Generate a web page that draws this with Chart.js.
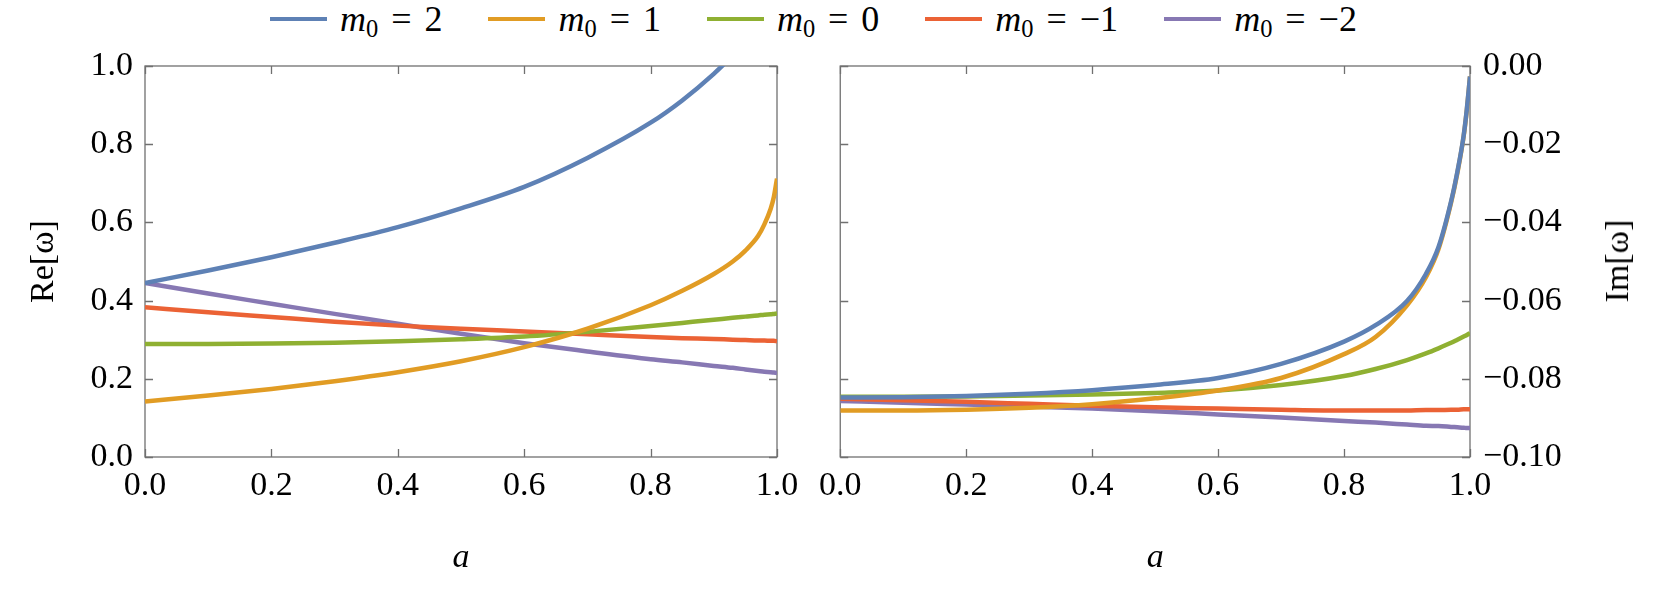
<!DOCTYPE html>
<html>
<head>
<meta charset="utf-8">
<script src="https://cdn.jsdelivr.net/npm/chart.js@4.4.1/dist/chart.umd.min.js"></script>
<style>
  html, body { margin: 0; padding: 0; background: #fff; }
  #page { position: relative; width: 1661px; height: 608px; overflow: hidden; font-family: 'Liberation Serif', serif; color: #000; }
  #legend { position: absolute; left: 270px; top: 0; height: 38px; display: flex; align-items: center; gap: 46px; font-size: 36px; white-space: nowrap; }
  .legend-item { display: flex; align-items: center; }
  .legend-line { width: 57px; height: 4.5px; margin-right: 13px; }
  .legend-item sub { font-size: 0.68em; vertical-align: -0.25em; line-height: 0; }
  .eq { margin: 0 0.36em; }
  .box { position: absolute; top: 0; height: 608px; }
  #im-title { position: absolute; left: 1617px; top: 261px; font-size: 34px; transform: translate(-50%, -50%) rotate(-90deg); white-space: nowrap; }
</style>
</head>
<body>
<div id="page">
  <div id="legend"></div>
  <div class="box" style="left:0;width:810px"><canvas id="re-chart"></canvas></div>
  <div class="box" style="left:810px;width:851px"><canvas id="im-chart"></canvas></div>
  <div id="im-title">Im[ω]</div>
</div>
<script>
// ─────────────────────────────────────────────
//  DATA
// ─────────────────────────────────────────────

const spinA = [0, 0.1, 0.2, 0.3, 0.4, 0.5, 0.6, 0.7, 0.8, 0.85, 0.9, 0.93, 0.95, 0.97, 0.98, 0.99, 0.995, 1.0];

const seriesLabels = ['2', '1', '0', '−1', '−2'];
const seriesColors = ['#5E81B5', '#E19C24', '#8FB032', '#EB6235', '#8778B3'];

// Re[ω]
const reM2  = [0.445, 0.477, 0.511, 0.548, 0.588, 0.636, 0.691, 0.765, 0.855, 0.912, 0.980, 1.027, null, null, null, null, null, null];
const reM1  = [0.142, 0.157, 0.174, 0.194, 0.217, 0.245, 0.281, 0.328, 0.388, 0.425, 0.468, 0.500, 0.528, 0.565, 0.595, 0.635, 0.665, 0.712];
const reM0  = [0.289, 0.289, 0.290, 0.292, 0.296, 0.301, 0.308, 0.320, 0.335, 0.343, 0.351, 0.356, 0.359, 0.362, 0.364, 0.365, 0.366, 0.367];
const reMm1 = [0.383, 0.370, 0.358, 0.346, 0.336, 0.328, 0.321, 0.314, 0.307, 0.304, 0.302, 0.300, 0.299, 0.298, 0.298, 0.297, 0.297, 0.296];
const reMm2 = [0.445, 0.418, 0.392, 0.366, 0.341, 0.315, 0.291, 0.270, 0.250, 0.242, 0.233, 0.228, 0.224, 0.220, 0.218, 0.217, 0.216, 0.215];

// Im[ω]
const imM2  = [-0.0848, -0.0847, -0.0844, -0.0838, -0.0829, -0.0816, -0.0798, -0.0762, -0.0705, -0.0663, -0.0601, -0.0532, -0.0463, -0.0346, -0.0270, -0.0177, -0.0110, -0.0027];
const imM1  = [-0.0881, -0.0881, -0.0879, -0.0874, -0.0865, -0.0850, -0.0830, -0.0798, -0.0737, -0.0693, -0.0612, -0.0540, -0.0468, -0.0349, -0.0273, -0.0179, -0.0112, -0.0027];
const imM0  = [-0.0846, -0.0846, -0.0845, -0.0843, -0.0840, -0.0836, -0.0830, -0.0816, -0.0793, -0.0775, -0.0752, -0.0735, -0.0722, -0.0708, -0.0700, -0.0692, -0.0688, -0.0683];
const imMm1 = [-0.0851, -0.0855, -0.0859, -0.0864, -0.0869, -0.0873, -0.0876, -0.0879, -0.0881, -0.0881, -0.0881, -0.0880, -0.0880, -0.0879, -0.0879, -0.0878, -0.0878, -0.0878];
const imMm2 = [-0.0857, -0.0861, -0.0866, -0.0871, -0.0876, -0.0883, -0.0891, -0.0899, -0.0908, -0.0912, -0.0917, -0.0920, -0.0921, -0.0923, -0.0924, -0.0925, -0.0926, -0.0926];

const xTicks = { min: 0, max: 1, step: 0.2 };

// ─────────────────────────────────────────────
//  HELPERS
// ─────────────────────────────────────────────

const FONT = "'Liberation Serif', serif";
const minus = s => s.replace('-', '−');

function makeDatasets(rows) {
  return rows.map((vals, i) => ({
    label: 'm0 = ' + seriesLabels[i],
    data: spinA.map((a, k) => ({ x: a, y: vals[k] })),
    borderColor: seriesColors[i],
    borderWidth: 4.5,
    pointRadius: 0,
    cubicInterpolationMode: 'monotone',
    fill: false
  }));
}

// frame + inward tick marks on all four sides
const frameTicks = {
  id: 'frameTicks',
  beforeDatasetsDraw(chart) {
    const { ctx, chartArea: a, scales } = chart;
    const y = scales.y, x = scales.x, len = 8;
    ctx.save();
    ctx.strokeStyle = '#707070';
    ctx.lineWidth = 1.3;
    ctx.strokeRect(a.left, a.top, a.right - a.left, a.bottom - a.top);
    ctx.beginPath();
    x.ticks.forEach(t => {
      const px = Math.round(x.getPixelForValue(t.value)) + 0.5;
      ctx.moveTo(px, a.bottom); ctx.lineTo(px, a.bottom - len);
      ctx.moveTo(px, a.top); ctx.lineTo(px, a.top + len);
    });
    y.ticks.forEach(t => {
      const py = Math.round(y.getPixelForValue(t.value)) + 0.5;
      ctx.moveTo(a.left, py); ctx.lineTo(a.left + len, py);
      ctx.moveTo(a.right, py); ctx.lineTo(a.right - len, py);
    });
    ctx.stroke();
    ctx.restore();
  }
};

function xAxis() {
  return {
    type: 'linear', min: xTicks.min, max: xTicks.max,
    grid: { display: false, drawTicks: false },
    border: { display: false },
    ticks: { stepSize: xTicks.step, autoSkip: false, maxRotation: 0, padding: 9, color: '#000',
             font: { family: FONT, size: 34 }, callback: v => v.toFixed(1) },
    title: { display: true, text: 'a', color: '#000', padding: { top: 0, bottom: 30 },
             font: { family: FONT, size: 34, style: 'italic' } },
    afterFit: s => { s.height = 151; }
  };
}

function baseOptions(padding, yScale) {
  return {
    responsive: true,
    maintainAspectRatio: false,
    animation: false,
    layout: { padding },
    plugins: { legend: { display: false }, tooltip: { enabled: false } },
    scales: { x: xAxis(), y: yScale }
  };
}

// ─────────────────────────────────────────────
//  CHARTS
// ─────────────────────────────────────────────

new Chart(document.getElementById('re-chart'), {
  type: 'line',
  data: { datasets: makeDatasets([reM2, reM1, reM0, reMm1, reMm2]) },
  options: baseOptions({ left: 0, right: 33, top: 66, bottom: 0 }, {
    type: 'linear', position: 'left', min: 0, max: 1,
    grid: { display: false, drawTicks: false },
    border: { display: false },
    ticks: { stepSize: 0.2, padding: 12, color: '#000', font: { family: FONT, size: 34 },
             callback: v => v.toFixed(1) },
    title: { display: true, text: 'Re[ω]', color: '#000', padding: { top: 24, bottom: 0 },
             font: { family: FONT, size: 34 } },
    afterFit: s => { s.width = 145; }
  }),
  plugins: [frameTicks]
});

new Chart(document.getElementById('im-chart'), {
  type: 'line',
  data: { datasets: makeDatasets([imM2, imM1, imM0, imMm1, imMm2]) },
  options: baseOptions({ left: 27, right: 0, top: 66, bottom: 0 }, {
    type: 'linear', position: 'right', min: -0.1, max: 0,
    grid: { display: false, drawTicks: false },
    border: { display: false },
    ticks: { stepSize: 0.02, padding: 13, color: '#000', font: { family: FONT, size: 34 },
             callback: v => Math.abs(v) < 1e-9 ? '0.00' : minus(v.toFixed(2)) },
    afterFit: s => { s.width = 191; }
  }),
  plugins: [frameTicks]
});

// ─────────────────────────────────────────────
//  LEGEND
// ─────────────────────────────────────────────

document.getElementById('legend').innerHTML = seriesLabels.map((lab, i) => `
  <div class="legend-item">
    <span class="legend-line" style="background:${seriesColors[i]}"></span>
    <span><i>m</i><sub>0</sub><span class="eq">=</span>${lab}</span>
  </div>`).join('');
</script>
</body>
</html>
